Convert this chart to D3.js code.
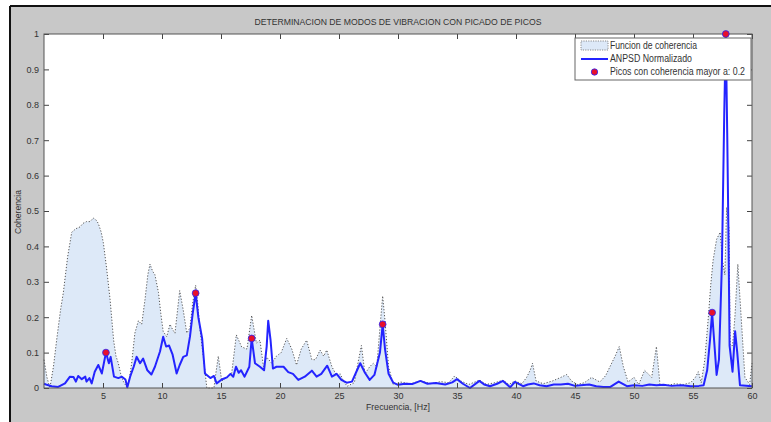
<!DOCTYPE html>
<html>
<head>
<meta charset="utf-8">
<script src="https://cdn.jsdelivr.net/npm/d3@7"></script>
<style>
  body { margin: 0; background: #fff; }
  text { font-family: "Liberation Sans Narrow", "Arial Narrow", "Liberation Sans", Arial, sans-serif; fill: #333; }
</style>
</head>
<body>
<div id="chart"></div>
<script>
// Funcion de coherencia (frecuencia Hz, valor)
const cohFreq = [0,0.25,0.5,0.8,1.07,1.4,1.64,2.0,2.35,2.7,3.05,3.3,3.6,3.9,4.18,4.4,4.6,4.85,5.03,5.3,5.6,5.9,6.1,6.3,6.5,6.7,7.06,7.25,7.43,7.7,8.0,8.28,8.56,8.8,8.98,9.2,9.4,9.7,9.9,10.1,10.4,10.68,10.9,11.1,11.5,11.8,12.1,12.37,12.6,12.85,13.0,13.2,13.5,13.8,14.4,14.6,14.77,15.06,15.5,15.9,16.3,16.75,17.2,17.6,18.0,18.3,18.6,18.87,19.3,19.7,20.1,20.57,21.0,21.4,21.8,22.26,22.7,23.0,23.4,23.7,23.96,24.4,24.8,25.1,25.4,25.7,26.3,26.6,26.9,27.2,27.6,27.9,28.2,28.47,28.7,28.9,29.2,29.6,30.2,31.0,31.9,32.8,33.6,34.3,34.8,35.3,36.0,36.9,37.5,38.2,38.9,39.4,39.9,40.5,40.9,41.2,41.4,41.7,42.3,43.1,43.8,44.3,44.7,45.2,45.8,46.4,47.1,47.6,47.96,48.4,48.75,49.1,49.5,50.0,50.4,50.9,51.5,51.9,52.2,53.0,53.4,54.2,54.8,55.2,55.45,55.7,56.0,56.3,56.5,56.7,57.0,57.3,57.5,57.7,57.85,58.05,58.15,58.35,58.55,58.8,59.1,59.4,59.8,60];
const cohVal = [0.08,0.03,0.0,0.06,0.135,0.22,0.27,0.37,0.44,0.45,0.455,0.465,0.47,0.47,0.48,0.475,0.465,0.44,0.41,0.34,0.25,0.135,0.09,0.07,0.04,0.02,0.0,0.03,0.07,0.155,0.19,0.18,0.25,0.32,0.35,0.33,0.32,0.27,0.21,0.16,0.145,0.18,0.165,0.155,0.275,0.22,0.155,0.17,0.24,0.29,0.25,0.17,0.09,0.0,0.0,0.05,0.09,0.02,0.03,0.04,0.15,0.116,0.11,0.205,0.127,0.135,0.06,0.087,0.07,0.09,0.1,0.14,0.11,0.065,0.11,0.135,0.08,0.08,0.107,0.09,0.107,0.06,0.035,0.04,0.018,0.005,0.015,0.07,0.12,0.04,0.06,0.07,0.06,0.17,0.26,0.19,0.06,0.01,0.017,0.012,0.02,0.012,0.018,0.015,0.034,0.02,0.01,0.022,0.01,0.015,0.022,0.01,0.02,0.012,0.03,0.05,0.07,0.02,0.012,0.02,0.03,0.038,0.02,0.01,0.015,0.03,0.017,0.035,0.06,0.09,0.117,0.06,0.017,0.03,0.01,0.05,0.03,0.117,0.01,0.008,0.012,0.01,0.015,0.03,0.046,0.015,0.08,0.2,0.29,0.36,0.42,0.44,0.36,0.32,0.51,0.45,0.12,0.12,0.2,0.35,0.19,0.03,0.01,0.07];

// ANPSD normalizado
const psdFreq = [0,0.17,0.65,1.2,1.78,2.2,2.5,2.7,2.9,3.2,3.5,3.6,3.85,4.04,4.3,4.6,4.9,5.25,5.5,5.65,5.93,6.3,6.6,6.9,7.06,7.3,7.6,7.85,8.14,8.4,8.76,9.1,9.4,9.83,10.1,10.35,10.6,10.9,11.24,11.5,11.8,12.1,12.37,12.6,12.85,13.08,13.4,13.64,14.1,14.4,14.63,15.06,15.5,15.8,16.04,16.27,16.5,16.7,17.0,17.4,17.6,17.88,18.3,18.65,18.87,19.0,19.2,19.4,19.7,20.3,20.7,21.1,21.55,22.1,22.7,23.1,23.5,24.0,24.4,24.8,25.2,25.65,26.1,26.5,26.8,27.2,27.6,28.0,28.47,28.7,28.9,29.2,29.6,30.0,30.6,31.2,31.9,32.5,33.2,34.0,34.6,35.0,35.5,36.1,36.9,37.3,37.8,38.4,38.9,39.5,39.9,40.6,41.0,41.5,42.0,42.6,43.2,43.8,44.4,45.0,45.5,46.2,46.8,47.4,48.0,48.7,49.4,50.0,50.7,51.3,51.9,52.5,53.2,54.0,54.8,55.5,55.9,56.2,56.44,56.62,56.8,57.0,57.2,57.45,57.65,57.78,57.9,58.0,58.1,58.35,58.57,58.75,58.98,60];
const psdVal = [0.012,0.01,0.005,0.003,0.013,0.032,0.031,0.018,0.034,0.025,0.032,0.018,0.028,0.013,0.046,0.065,0.041,0.10,0.07,0.088,0.032,0.028,0.032,0.024,0.002,0.032,0.06,0.088,0.07,0.083,0.05,0.038,0.06,0.103,0.145,0.117,0.12,0.094,0.041,0.065,0.088,0.092,0.145,0.21,0.268,0.2,0.14,0.041,0.028,0.034,0.013,0.024,0.03,0.04,0.032,0.06,0.043,0.05,0.032,0.06,0.14,0.07,0.06,0.05,0.117,0.19,0.135,0.055,0.06,0.06,0.045,0.04,0.023,0.032,0.049,0.032,0.04,0.063,0.032,0.04,0.023,0.015,0.018,0.048,0.07,0.043,0.023,0.037,0.1,0.18,0.11,0.04,0.015,0.009,0.012,0.011,0.02,0.012,0.014,0.01,0.016,0.025,0.012,0.0,0.02,0.01,0.005,0.012,0.02,0.002,0.017,0.005,0.01,0.013,0.008,0.005,0.01,0.01,0.012,0.006,0.008,0.01,0.005,0.003,0.003,0.018,0.005,0.008,0.006,0.01,0.008,0.009,0.006,0.008,0.005,0.006,0.008,0.05,0.135,0.213,0.13,0.037,0.08,0.35,0.78,1.0,0.72,0.45,0.12,0.046,0.16,0.1,0.008,0.005];

// Picos con coherencia mayor a 0.2
const peakFreq = [5.25, 12.85, 17.6, 28.7, 56.62, 57.78];
const peakVal = [0.10, 0.268, 0.14, 0.18, 0.213, 1.0];

const xTicks = [5, 10, 15, 20, 25, 30, 35, 40, 45, 50, 55, 60];
const yTicks = [0, 0.1, 0.2, 0.3, 0.4, 0.5, 0.6, 0.7, 0.8, 0.9, 1];
const legendLabels = ["Funcion de coherencia", "ANPSD Normalizado", "Picos con coherencia mayor a: 0.2"];
const legendWidths = [87, 82, 135];

const W = 771, H = 422;
const margin = { top: 34, right: 19, bottom: 34, left: 44 };
const width = W - margin.left - margin.right;
const height = H - margin.top - margin.bottom;

const svg = d3.select("#chart").append("svg")
    .attr("width", W)
    .attr("height", H);

// figure background
svg.append("rect").attr("x", 10).attr("y", 6).attr("width", W - 10).attr("height", H - 6).attr("fill", "#c8c8c8");
svg.append("line").attr("x1", 10).attr("x2", W).attr("y1", 6).attr("y2", 6).attr("stroke", "#111").attr("stroke-width", 2);
svg.append("line").attr("x1", 10).attr("x2", 10).attr("y1", 6).attr("y2", H).attr("stroke", "#111").attr("stroke-width", 2);

const g = svg.append("g").attr("transform", `translate(${margin.left},${margin.top})`);

const x = d3.scaleLinear().domain([0, 60]).range([0, width]);
const y = d3.scaleLinear().domain([0, 1]).range([height, 0]);

g.append("rect").attr("width", width).attr("height", height).attr("fill", "#fff");

const coh = cohFreq.map((f, i) => ({ f, v: cohVal[i] }));
const psd = psdFreq.map((f, i) => ({ f, v: psdVal[i] }));
const peaks = peakFreq.map((f, i) => ({ f, v: peakVal[i] }));

g.append("path")
    .datum(coh)
    .attr("fill", "#dde9f8")
    .attr("d", d3.area().x(d => x(d.f)).y0(y(0)).y1(d => y(d.v)));

g.append("path")
    .datum(coh)
    .attr("fill", "none")
    .attr("stroke", "#555")
    .attr("stroke-width", 1)
    .attr("stroke-dasharray", "1.2,1.8")
    .attr("d", d3.line().x(d => x(d.f)).y(d => y(d.v)));

g.append("path")
    .datum(psd)
    .attr("fill", "none")
    .attr("stroke", "#2424ff")
    .attr("stroke-width", 2)
    .attr("stroke-linejoin", "round")
    .attr("d", d3.line().x(d => x(d.f)).y(d => y(d.v)));

// axes with inward ticks
const xAxis = g.append("g").attr("transform", `translate(0,${height})`)
    .call(d3.axisBottom(x).tickValues(xTicks).tickSizeInner(-5).tickSizeOuter(0).tickPadding(5).tickFormat(d3.format("d")));
const xTop = g.append("g")
    .call(d3.axisTop(x).tickValues(xTicks).tickSizeInner(-5).tickSizeOuter(0).tickFormat(""));
const yAxis = g.append("g")
    .call(d3.axisLeft(y).tickValues(yTicks).tickSizeInner(-5).tickSizeOuter(0).tickPadding(5).tickFormat(d => d3.format("")(d)));
const yRight = g.append("g").attr("transform", `translate(${width},0)`)
    .call(d3.axisRight(y).tickValues(yTicks).tickSizeInner(-5).tickSizeOuter(0).tickFormat(""));

[xAxis, xTop, yAxis, yRight].forEach(a => {
    a.select(".domain").remove();
    a.selectAll("line").attr("stroke", "#444");
    a.selectAll("text").style("font-size", "9px").attr("fill", "#333");
});

g.append("rect").attr("width", width).attr("height", height)
    .attr("fill", "none").attr("stroke", "#555").attr("stroke-width", 1);

// legend
const lg = svg.append("g").attr("transform", "translate(575,38)");
lg.append("rect").attr("width", 176).attr("height", 42).attr("fill", "#fff").attr("stroke", "#666");
lg.append("rect").attr("x", 6).attr("y", 3).attr("width", 27).attr("height", 9)
    .attr("fill", "#dde9f8").attr("stroke", "#888").attr("stroke-dasharray", "1.2,1.2");
lg.append("line").attr("x1", 6).attr("x2", 33).attr("y1", 21).attr("y2", 21)
    .attr("stroke", "#2424ff").attr("stroke-width", 2);
lg.append("circle").attr("cx", 19.5).attr("cy", 34).attr("r", 3.2)
    .attr("fill", "#e8102a").attr("stroke", "#2424ff").attr("stroke-width", 0.8);
lg.selectAll("text.lab").data(legendLabels).join("text")
    .attr("class", "lab")
    .attr("x", 35)
    .attr("y", (d, i) => 11 + i * 13)
    .attr("textLength", (d, i) => legendWidths[i])
    .attr("lengthAdjust", "spacingAndGlyphs")
    .style("font-size", "10px")
    .text(d => d);

// peaks
g.selectAll("circle.peak").data(peaks).join("circle")
    .attr("class", "peak")
    .attr("cx", d => x(d.f))
    .attr("cy", d => y(d.v))
    .attr("r", 3.4)
    .attr("fill", "#e8102a")
    .attr("stroke", "#2424ff")
    .attr("stroke-width", 0.8);

// titles
svg.append("text").attr("x", margin.left + width / 2).attr("y", 25)
    .attr("text-anchor", "middle").style("font-size", "9.5px")
    .attr("textLength", 287).attr("lengthAdjust", "spacingAndGlyphs")
    .text("DETERMINACION DE MODOS DE VIBRACION CON PICADO DE PICOS");
svg.append("text").attr("x", margin.left + width / 2).attr("y", 410)
    .attr("text-anchor", "middle").style("font-size", "9.5px")
    .attr("textLength", 64).attr("lengthAdjust", "spacingAndGlyphs")
    .text("Frecuencia, [Hz]");
svg.append("text").attr("transform", "translate(21,212) rotate(-90)")
    .attr("text-anchor", "middle").style("font-size", "9.5px")
    .attr("textLength", 44).attr("lengthAdjust", "spacingAndGlyphs")
    .text("Coherencia");
</script>
</body>
</html>
